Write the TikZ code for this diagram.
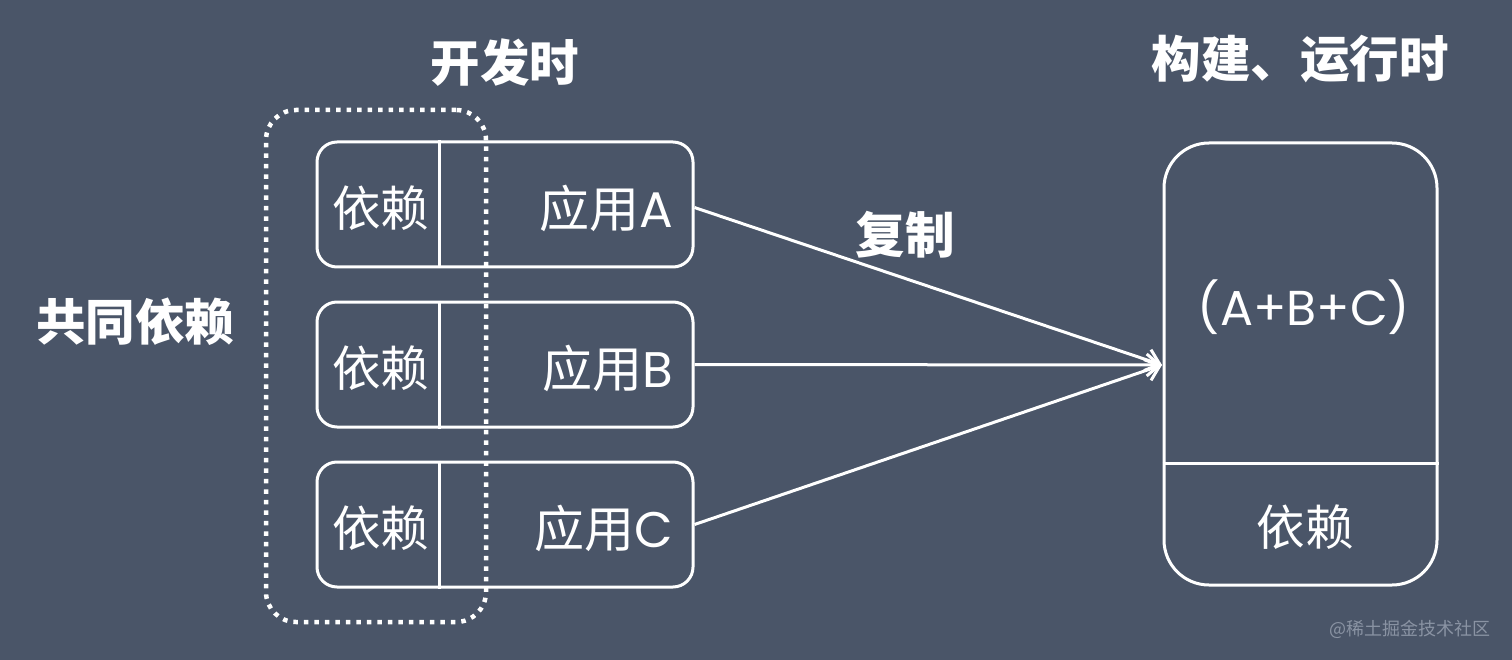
\documentclass[tikz,border=0pt]{standalone}
\usepackage{fontspec}
\setmainfont{Noto Sans CJK SC}
\newfontfamily\lat{Poppins}
\usetikzlibrary{arrows.meta}
\definecolor{bg}{HTML}{4A5568}
\definecolor{wm}{HTML}{8A93A3}
\tikzset{
  appbox/.style={draw=white, line width=3pt, rounded corners=20pt, minimum width=376pt, minimum height=125pt, inner sep=0pt},
  dep/.style={text=white, font=\fontsize{48.5}{52}\selectfont, inner sep=0pt},
  app/.style={text=white, font=\fontsize{50}{54}\selectfont, inner sep=0pt, anchor=east},
  title/.style={text=white, font=\fontsize{49.5}{54}\selectfont\bfseries, inner sep=0pt},
  conn/.style={draw=white, line width=3pt, -{Straight Barb[length=13pt,width=22pt,line width=3pt]}},
  divider/.style={draw=white, line width=3pt},
}
\begin{document}
\begin{tikzpicture}[x=1pt,y=-1pt]
\fill[bg] (0,0) rectangle (1512,660);
\useasboundingbox (0,0) rectangle (1512,660);
% dotted group
\node[draw=white, line width=4.5pt, dash pattern=on 4.5pt off 6pt, rounded corners=30pt, minimum width=220pt, minimum height=512pt, inner sep=0pt] (grp) at (376,366) {};
% app boxes
\node[appbox] (boxA) at (505,204.5) {};
\node[appbox] (boxB) at (505,364.5) {};
\node[appbox] (boxC) at (505,524.5) {};
\foreach \b in {boxA,boxB,boxC}{
  \draw[divider] ([xshift=124pt]\b.north west) -- ([xshift=124pt]\b.south west);
}
\node[dep] (depA) at (380.5,208) {依赖};
\node[dep] (depB) at (380.5,368) {依赖};
\node[dep] (depC) at (380.5,528) {依赖};
\node[app] (appA) at (673,208) {应用{\lat A}};
\node[app] (appB) at (673,368) {应用{\lat B}};
\node[app] (appC) at (673,528) {应用{\lat C}};
% right box
\node[draw=white, line width=3pt, rounded corners=45pt, minimum width=273pt, minimum height=442pt, inner sep=0pt] (out) at (1300.5,364) {};
\draw[divider] (out.west |- 0,463) coordinate (dl) -- (out.east |- 0,463) coordinate (dr);
\node[text=white, font=\lat\fontsize{49}{54}\selectfont, inner sep=0pt] (abc) at (1304,307) {(A+B+C)};
\node[dep] (depOut) at (1305,527) {依赖};
% arrows
\coordinate (tip) at (1162,365);
\draw[conn] (boxA.east) ++(0,3) -- (tip);
\draw[conn] (boxB.east) -- (tip);
\draw[conn] (boxC.east) -- (tip);
% titles
\node[title] (t1) at (505,63) {开发时};
\node[title] (t2) at (1300,59) {构建、运行时};
\node[title] (t3) at (135,322) {共同依赖};
\node[title] (t4) at (905,235) {复制};
\node[text=wm, font=\fontsize{18}{20}\selectfont, inner sep=0pt] (wmk) at (1410,629) {@稀土掘金技术社区};
\end{tikzpicture}
\end{document}
